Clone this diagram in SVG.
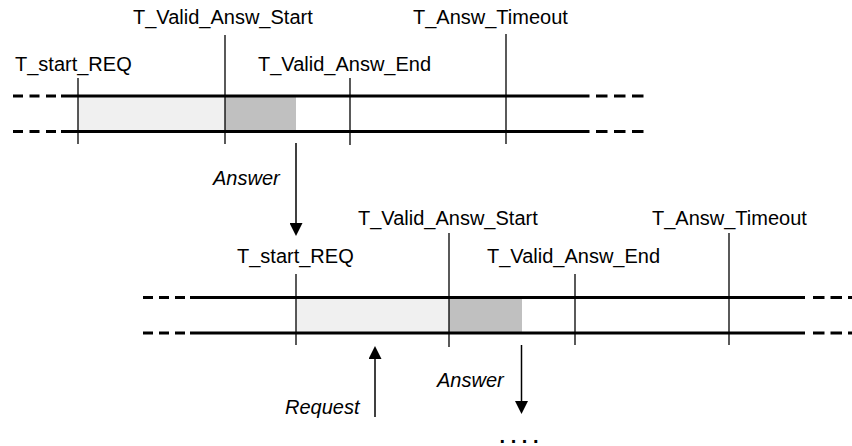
<svg xmlns="http://www.w3.org/2000/svg" width="852" height="446" viewBox="0 0 852 446">
<style>
.lbl{font-family:"Liberation Sans",Arial,sans-serif;font-size:20px;fill:#000}
.it{font-style:italic}
.rail{stroke:#000;stroke-width:3;fill:none}
.dashL{stroke:#000;stroke-width:3;fill:none;stroke-dasharray:10 6.5}
.dashR{stroke:#000;stroke-width:3;fill:none;stroke-dasharray:11.5 6.5}
.tick{stroke:#000;stroke-width:1.3;fill:none}
.arr{stroke:#000;stroke-width:1.5;fill:none;marker-end:url(#ah)}
.light{fill:#f0f0f0}
.dark{fill:#c0c0c0}
</style>
<defs>
<marker id="ah" markerUnits="userSpaceOnUse" markerWidth="14" markerHeight="13" refX="8" refY="6.5" orient="auto">
<path d="M0,0 L13,6.5 L0,13 z" fill="#000"/>
</marker>
</defs>
<rect width="852" height="446" fill="#fff"/>
<g id="timeline1">
<rect class="light" x="78" y="96" width="147" height="35.5"/>
<rect class="dark" x="225" y="96" width="71" height="35.5"/>
<line class="dashL" x1="13" y1="96" x2="57" y2="96"/>
<line class="dashL" x1="13" y1="131.5" x2="57" y2="131.5"/>
<line class="rail" x1="61" y1="96" x2="578" y2="96"/>
<line class="rail" x1="61" y1="131.5" x2="578" y2="131.5"/>
<line class="dashR" x1="578" y1="96" x2="644" y2="96"/>
<line class="dashR" x1="578" y1="131.5" x2="644" y2="131.5"/>
</g>
<g id="t1_start_req">
<line class="tick" x1="78" y1="78" x2="78" y2="144"/>
<text class="lbl" x="15" y="71">T_start_REQ</text>
</g>
<g id="t1_valid_start">
<line class="tick" x1="225" y1="35" x2="225" y2="144"/>
<text class="lbl" x="133" y="24">T_Valid_Answ_Start</text>
</g>
<g id="t1_valid_end">
<line class="tick" x1="350" y1="78" x2="350" y2="145"/>
<text class="lbl" x="258" y="71">T_Valid_Answ_End</text>
</g>
<g id="t1_timeout">
<line class="tick" x1="506" y1="34" x2="506" y2="144"/>
<text class="lbl" x="413" y="24">T_Answ_Timeout</text>
</g>
<g id="timeline2">
<rect class="light" x="296" y="297.5" width="153" height="35.5"/>
<rect class="dark" x="449" y="297.5" width="73" height="35.5"/>
<line class="dashL" x1="143" y1="297.5" x2="188" y2="297.5" style="stroke-dasharray:10 6"/>
<line class="dashL" x1="143" y1="333" x2="188" y2="333" style="stroke-dasharray:10 6"/>
<line class="rail" x1="190" y1="297.5" x2="805" y2="297.5"/>
<line class="rail" x1="190" y1="333" x2="805" y2="333"/>
<line class="dashR" x1="813" y1="297.5" x2="852" y2="297.5" style="stroke-dasharray:11.5 6"/>
<line class="dashR" x1="813" y1="333" x2="852" y2="333" style="stroke-dasharray:11.5 6"/>
</g>
<g id="t2_start_req">
<line class="tick" x1="296" y1="274" x2="296" y2="345"/>
<text class="lbl" x="237" y="263">T_start_REQ</text>
</g>
<g id="t2_valid_start">
<line class="tick" x1="449" y1="233" x2="449" y2="347"/>
<text class="lbl" x="358" y="225">T_Valid_Answ_Start</text>
</g>
<g id="t2_valid_end">
<line class="tick" x1="575" y1="274" x2="575" y2="345"/>
<text class="lbl" x="487" y="263">T_Valid_Answ_End</text>
</g>
<g id="t2_timeout">
<line class="tick" x1="729" y1="233" x2="729" y2="345"/>
<text class="lbl" x="652" y="225">T_Answ_Timeout</text>
</g>
<g id="connectors">
<line class="arr" x1="296" y1="143" x2="296" y2="231"/>
<line class="arr" x1="375" y1="417" x2="375" y2="351"/>
<line class="arr" x1="521.5" y1="345" x2="521.5" y2="409"/>
</g>
<g id="labels">
<text class="lbl it" x="213" y="185">Answer</text>
<text class="lbl it" x="285" y="414">Request</text>
<text class="lbl it" x="437" y="387">Answer</text>
<text class="lbl" x="519" y="443" text-anchor="middle" style="font-weight:bold">. . . .</text>
</g>
</svg>
